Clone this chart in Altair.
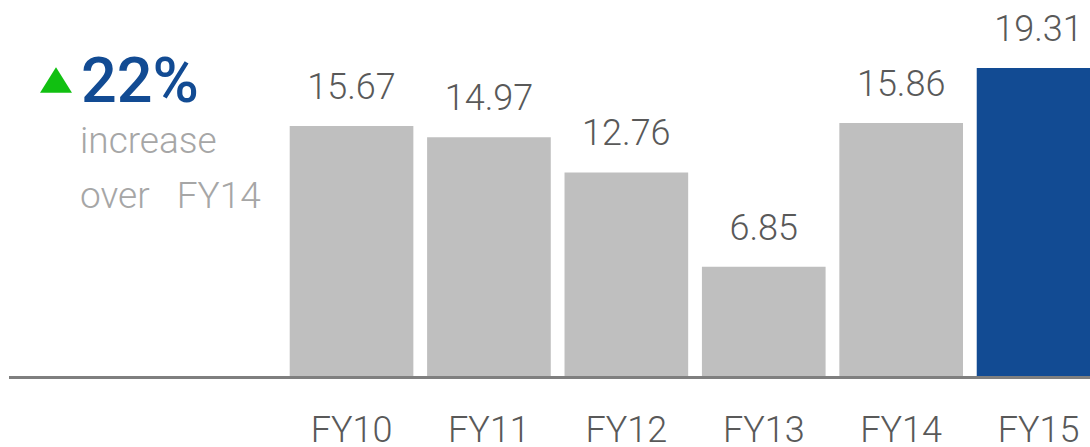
import altair as alt
import pandas as pd

years = ["FY10", "FY11", "FY12", "FY13", "FY14", "FY15"]
values = [15.67, 14.97, 12.76, 6.85, 15.86, 19.31]
highlight = ["no", "no", "no", "no", "no", "yes"]

pct_text = ["22%"]
sub_lines = ["increase", "over\u00a0\u00a0\u00a0FY14"]

FONT = "Roboto, sans-serif"
GRAY_TXT = "#595959"

df = pd.DataFrame({"year": years, "value": values, "hl": highlight})

H = 376
PX_PER_UNIT = 15.95
ymax = H / PX_PER_UNIT

x = alt.X("year:N", sort=years,
          scale=alt.Scale(domain=years, range=[289.7, 1100.4], paddingInner=0.1, paddingOuter=0),
          axis=alt.Axis(title=None, domain=False, ticks=False, labelAngle=0,
                        labelFont=FONT, labelFontSize=36, labelFontWeight=300, labelColor=GRAY_TXT,
                        labelPadding=37, labelBaseline="top", labelFlush=False))
y = alt.Y("value:Q", scale=alt.Scale(domain=[0, ymax], nice=False, zero=True), axis=None)

base = alt.Chart(df)

bars = base.mark_bar().encode(
    x=x, y=y,
    color=alt.Color("hl:N", scale=alt.Scale(domain=["no", "yes"], range=["#bfbfbf", "#124b93"]), legend=None),
)

labels = base.mark_text(font=FONT, fontSize=36, fontWeight=300, color=GRAY_TXT, baseline="alphabetic", dy=-27).encode(
    x=x, y=y, text=alt.Text("value:Q", format=".2f"))

baseline = alt.Chart(pd.DataFrame({"v": [0]})).mark_rule(color="#7f7f7f", strokeWidth=3, yOffset=1.5).encode(
    y=alt.Y("v:Q", scale=alt.Scale(domain=[0, ymax], nice=False), axis=None),
    x=alt.value(9), x2=alt.value(1090))

tri = alt.Chart(pd.DataFrame({"t": ["up"]})).mark_point(
    shape="M-1,0.8L1,0.8L0,-0.8Z", filled=True, color="#11c011", opacity=1, size=1024
).encode(x=alt.value(56), y=alt.value(80))

pct = alt.Chart(pd.DataFrame({"t": pct_text})).mark_text(
    font=FONT, fontSize=63, fontWeight=500, color="#124b93", align="left", baseline="alphabetic"
).encode(x=alt.value(81), y=alt.value(102), text="t:N")

sub = alt.Chart(pd.DataFrame({"t": sub_lines, "i": [0, 1]})).mark_text(
    font=FONT, fontSize=37, fontWeight=300, color="#a6a6a6", align="left", baseline="alphabetic"
).encode(
    x=alt.value(80),
    y=alt.Y("i:Q", scale=alt.Scale(domain=[0, 1], range=[153, 208]), axis=None),
    text="t:N")

chart = alt.layer(bars, labels, baseline, tri, pct, sub).resolve_scale(y="independent").properties(
    width=1090, height=H,
    padding={"left": 0, "top": 0, "right": 0, "bottom": 71},
    autosize=alt.AutoSizeParams(type="none"),
    view=alt.ViewBackground(stroke="transparent", strokeWidth=0, strokeOpacity=0),
).configure_view(strokeWidth=0, stroke="transparent", strokeOpacity=0).configure(background="white")

chart.save("out.html", embed_options={"renderer": "svg", "actions": False})
